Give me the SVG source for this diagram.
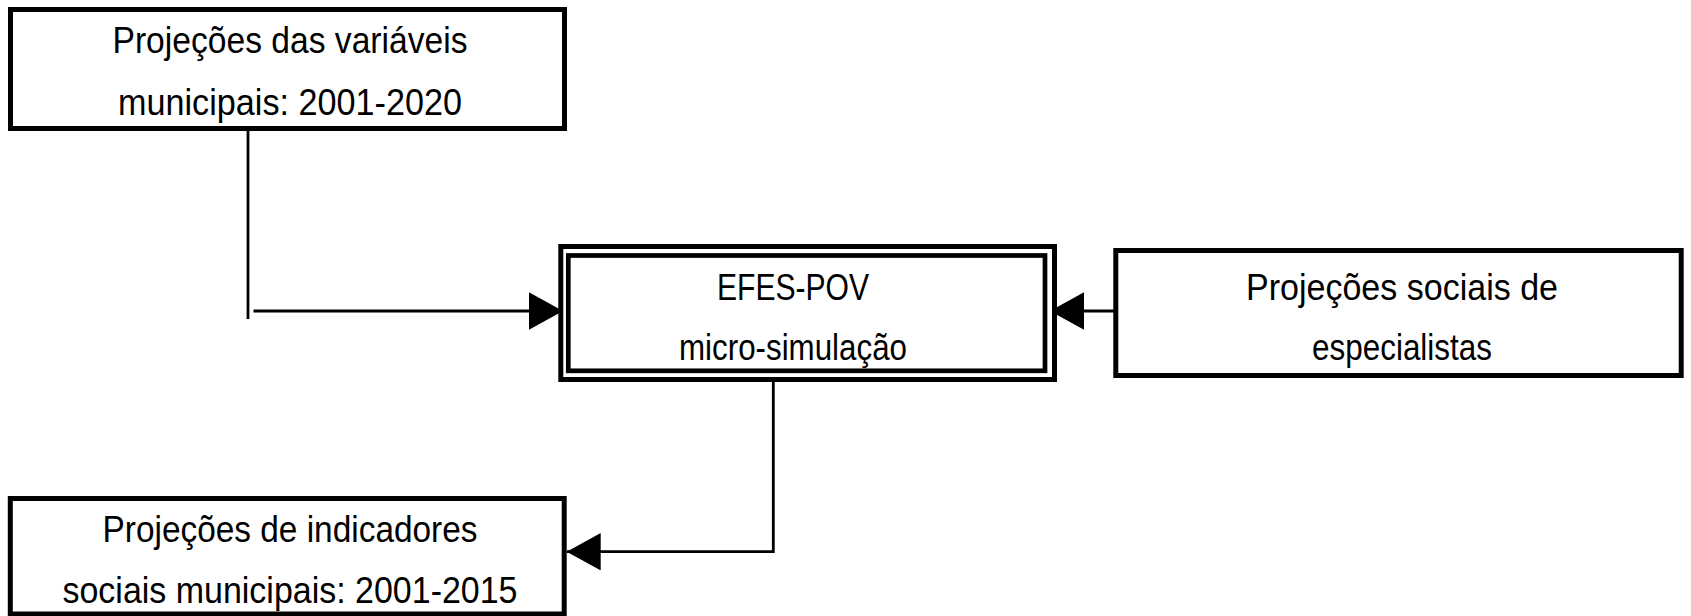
<svg xmlns="http://www.w3.org/2000/svg" width="1691" height="616" viewBox="0 0 1691 616">
<defs>
<marker id="arr" markerUnits="userSpaceOnUse" markerWidth="36" markerHeight="40" refX="34" refY="18.7" orient="auto">
<path d="M0,0 L34,18.7 L0,37.4 Z" fill="#000"/>
</marker>
<style>
.box{fill:#fff;stroke:#000;stroke-width:5}
.inner{fill:none;stroke:#000;stroke-width:4.7}
.lbl{font-family:"Liberation Sans",Arial,sans-serif;font-size:37px;fill:#000;text-anchor:middle}
.con{fill:none;stroke:#000;stroke-width:2.8}
</style>
</defs>
<rect width="1691" height="616" fill="#fff"/>
<g id="connectors">
<line class="con" x1="248" y1="131" x2="248" y2="319"/>
<line class="con" x1="253.5" y1="311" x2="563" y2="311" marker-end="url(#arr)"/>
<line class="con" x1="1114" y1="311" x2="1050" y2="311" marker-end="url(#arr)"/>
<polyline class="con" points="773.3,382 773.3,551.7 566.7,551.7" marker-end="url(#arr)"/>
</g>
<g id="node-top">
<rect class="box" x="10.5" y="9.5" width="554" height="119"/>
<text class="lbl" x="290" y="53" textLength="355" lengthAdjust="spacingAndGlyphs">Projeções das variáveis</text>
<text class="lbl" x="290" y="115" textLength="344" lengthAdjust="spacingAndGlyphs">municipais: 2001-2020</text>
</g>
<g id="node-center">
<rect class="box" x="560.8" y="246.5" width="493.7" height="133"/>
<rect class="inner" x="568.3" y="255.5" width="476.7" height="115.3"/>
<text class="lbl" x="793" y="300" textLength="152" lengthAdjust="spacingAndGlyphs">EFES-POV</text>
<text class="lbl" x="793" y="360" textLength="228" lengthAdjust="spacingAndGlyphs">micro-simulação</text>
</g>
<g id="node-right">
<rect class="box" x="1115.8" y="250.5" width="565.4" height="125"/>
<text class="lbl" x="1402" y="300" textLength="312" lengthAdjust="spacingAndGlyphs">Projeções sociais de</text>
<text class="lbl" x="1402" y="360" textLength="180" lengthAdjust="spacingAndGlyphs">especialistas</text>
</g>
<g id="node-bottom">
<rect class="box" x="10.3" y="498.5" width="553.9" height="115.5"/>
<text class="lbl" x="290" y="541.5" textLength="375" lengthAdjust="spacingAndGlyphs">Projeções de indicadores</text>
<text class="lbl" x="290" y="603" textLength="455" lengthAdjust="spacingAndGlyphs">sociais municipais: 2001-2015</text>
</g>
</svg>
